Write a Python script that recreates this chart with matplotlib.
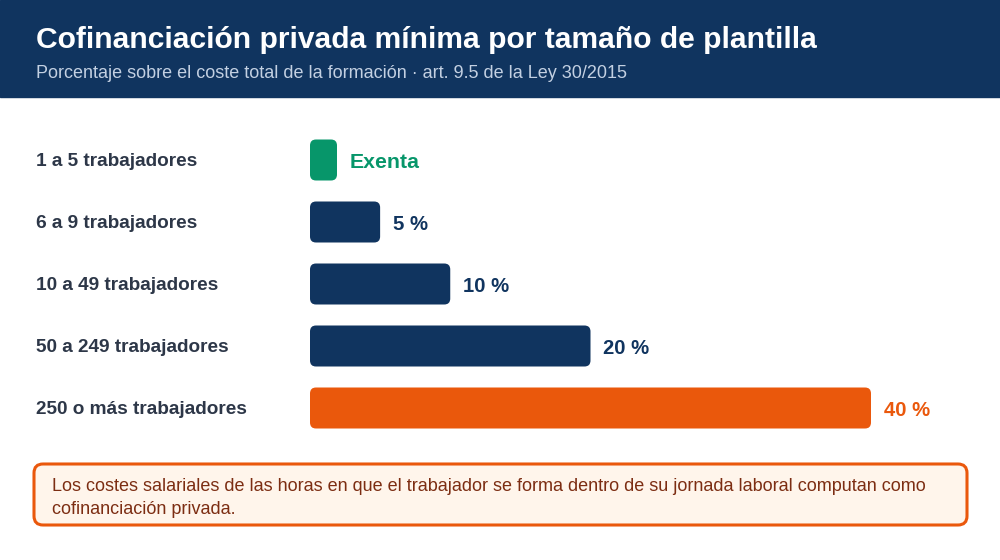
import matplotlib.pyplot as plt
from matplotlib.patches import FancyBboxPatch, Rectangle

plt.rcParams['font.family'] = ['Liberation Sans', 'DejaVu Sans']

# data
categories = ["1 a 5 trabajadores", "6 a 9 trabajadores", "10 a 49 trabajadores",
              "50 a 249 trabajadores", "250 o más trabajadores"]
values = [0, 5, 10, 20, 40]
value_labels = ["Exenta", "5 %", "10 %", "20 %", "40 %"]
title = "Cofinanciación privada mínima por tamaño de plantilla"
subtitle = "Porcentaje sobre el coste total de la formación · art. 9.5 de la Ley 30/2015"
note = ("Los costes salariales de las horas en que el trabajador se forma dentro de su jornada laboral computan como\n"
        "cofinanciación privada.")

navy = "#10345f"
green = "#07966a"
orange = "#ea580c"
colors = [green, navy, navy, navy, orange]
W, H = 1000, 560

fig = plt.figure(figsize=(10, 5.6), dpi=100)

# background / header / note layer in pixel coordinates
bg = fig.add_axes([0, 0, 1, 1])
bg.set_xlim(0, W)
bg.set_ylim(H, 0)
bg.axis('off')
bg.add_patch(Rectangle((0, 0), W, 97, color=navy, zorder=0))
bg.text(36, 40, title, color="white", fontsize=21.6, fontweight="bold", va="center")
bg.text(36, 73, subtitle, color="#c3d0e2", fontsize=13, va="center")
bg.add_patch(FancyBboxPatch((34, 464), 933, 61, boxstyle="round,pad=0,rounding_size=9",
                            fc="#fff5eb", ec=orange, lw=2.2))
bg.text(52, 498, note, color="#7c2d12", fontsize=13.0, va="center", linespacing=1.5)

# bar axes: 0..40 % -> 310..871 px
x0, x1 = 310, 871
row_h = 62
y_top = 160 - row_h / 2
ax = fig.add_axes([x0 / W, 1 - (y_top + row_h * len(categories)) / H,
                   (x1 - x0) / W, row_h * len(categories) / H])
ax.set_xlim(0, 40)
ax.set_ylim(len(categories) - 0.5, -0.5)
ax.axis('off')

px_x = 40 / (x1 - x0)   # data units per pixel, x
px_y = 1 / row_h        # data units per pixel, y
bar_h = 41 * px_y
min_w = 27 * px_x
r = 6 * px_x
aspect = px_y / px_x

for i, (cat, v, lab, c) in enumerate(zip(categories, values, value_labels, colors)):
    w = max(v, min_w)
    ax.add_patch(FancyBboxPatch((0, i - bar_h / 2), w, bar_h,
                                boxstyle=f"round,pad=0,rounding_size={r}",
                                mutation_aspect=aspect, fc=c, ec="none"))
    ax.annotate(lab, (w, i), xytext=(9.3, -1.6), textcoords="offset points",
                va="center", ha="left", fontsize=15.3 if v == 0 else 14.6,
                fontweight="bold", color=c)
    bg.text(36, 162 + i * row_h, cat, color="#2d3748", fontsize=13.7,
            fontweight="bold", va="center")

fig.savefig("out.png", dpi=100)
